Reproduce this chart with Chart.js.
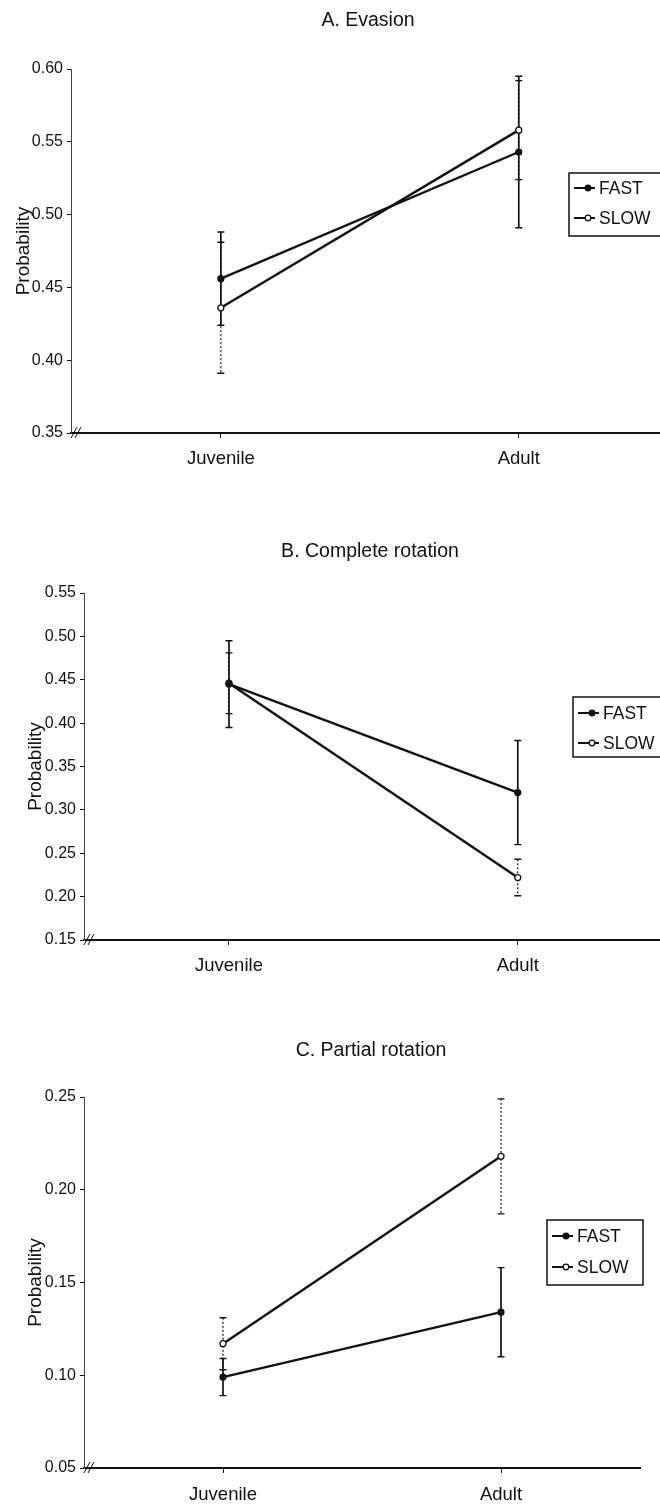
<!DOCTYPE html>
<html><head><meta charset="utf-8">
<script src="https://cdn.jsdelivr.net/npm/chart.js@4.4.1/dist/chart.umd.min.js"></script>
<style>
html,body{margin:0;padding:0;background:#fff;}
#wrap{position:relative;width:660px;height:1508px;overflow:hidden;background:#fff;}
.pane{position:absolute;left:0;width:700px;}
canvas{display:block;}
</style></head><body>
<div id="wrap">
<div class="pane" style="top:0px;height:490px"><canvas id="cA" width="690" height="490"></canvas></div>
<div class="pane" style="top:490px;height:510px"><canvas id="cB" width="690" height="510"></canvas></div>
<div class="pane" style="top:1000px;height:508px"><canvas id="cC" width="660" height="508"></canvas></div>
</div>
<script>
// ---- data ----
const categories = ['Juvenile', 'Adult'];
const seriesNames = ['FAST', 'SLOW'];

const evasionFast = [0.456, 0.543];
const evasionFastErr = [0.032, 0.052];
const evasionSlow = [0.436, 0.558];
const evasionSlowErr = [0.045, 0.034];

const completeFast = [0.445, 0.320];
const completeFastErr = [0.050, 0.060];
const completeSlow = [0.446, 0.222];
const completeSlowErr = [0.035, 0.021];

const partialFast = [0.099, 0.134];
const partialFastErr = [0.010, 0.024];
const partialSlow = [0.117, 0.218];
const partialSlowErr = [0.014, 0.031];

const evasionTicks = [0.35, 0.40, 0.45, 0.50, 0.55, 0.60];
const completeTicks = [0.15, 0.20, 0.25, 0.30, 0.35, 0.40, 0.45, 0.50, 0.55];
const partialTicks = [0.05, 0.10, 0.15, 0.20, 0.25];

const titles = ['A. Evasion', 'B. Complete rotation', 'C. Partial rotation'];
const yTitle = 'Probability';

// ---- rendering ----
const FONT = '"Liberation Sans", Arial, Helvetica, sans-serif';
const INK = '#111';

const panelTitle = {
  id: 'panelTitle',
  afterDraw(chart, args, opts) {
    const ctx = chart.ctx;
    ctx.save();
    ctx.fillStyle = INK;
    ctx.font = opts.size + 'px ' + FONT;
    ctx.textAlign = 'center';
    ctx.textBaseline = 'middle';
    ctx.fillText(opts.text, opts.x, opts.y);
    ctx.restore();
  }
};

const errorBars = {
  id: 'errorBars',
  beforeDatasetsDraw(chart) {
    const ctx = chart.ctx;
    const ys = chart.scales.y, xs = chart.scales.x;
    chart.data.datasets.forEach((ds) => {
      const errs = ds.errors || [];
      ctx.save();
      ctx.strokeStyle = INK;
      ds.data.forEach((p, i) => {
        const e = errs[i];
        const x = xs.getPixelForValue(p.x);
        const y1 = ys.getPixelForValue(p.y + e);
        const y2 = ys.getPixelForValue(p.y - e);
        ctx.lineWidth = ds.errDash ? 1.2 : 1.7;
        ctx.setLineDash(ds.errDash || []);
        ctx.beginPath();
        ctx.moveTo(x, y1); ctx.lineTo(x, y2);
        ctx.stroke();
        ctx.setLineDash([]);
        ctx.lineWidth = 1.4;
        ctx.beginPath();
        ctx.moveTo(x - 3.5, y1); ctx.lineTo(x + 3.5, y1);
        ctx.moveTo(x - 3.5, y2); ctx.lineTo(x + 3.5, y2);
        ctx.stroke();
      });
      ctx.restore();
    });
  }
};

const floatLegend = {
  id: 'floatLegend',
  afterDraw(chart, args, opts) {
    const ctx = chart.ctx;
    ctx.save();
    ctx.fillStyle = '#fff';
    ctx.fillRect(opts.x, opts.y, opts.w, opts.h);
    ctx.strokeStyle = INK;
    ctx.lineWidth = 1.5;
    ctx.strokeRect(opts.x, opts.y, opts.w, opts.h);
    chart.data.datasets.forEach((ds, i) => {
      const cy = opts.y + opts.rows[i];
      ctx.strokeStyle = INK;
      ctx.lineWidth = 2;
      ctx.beginPath();
      ctx.moveTo(opts.x + 5, cy); ctx.lineTo(opts.x + 26, cy);
      ctx.stroke();
      ctx.beginPath();
      ctx.arc(opts.x + 19, cy, 2.8, 0, Math.PI * 2);
      ctx.fillStyle = ds.pointBackgroundColor;
      ctx.fill();
      ctx.lineWidth = 1.3;
      ctx.stroke();
      ctx.fillStyle = INK;
      ctx.font = '17.5px ' + FONT;
      ctx.textBaseline = 'middle';
      ctx.fillText(ds.label, opts.x + 30, cy + 1);
    });
    ctx.restore();
  }
};

const axisBreak = {
  id: 'axisBreak',
  afterDraw(chart) {
    const ctx = chart.ctx;
    const a = chart.chartArea;
    ctx.save();
    ctx.strokeStyle = INK;
    ctx.lineWidth = 1;
    [3, 7].forEach(dx => {
      ctx.beginPath();
      ctx.moveTo(a.left + dx - 3, a.bottom + 5);
      ctx.lineTo(a.left + dx + 3, a.bottom - 6);
      ctx.stroke();
    });
    ctx.restore();
  }
};

function toPoints(vals) { return vals.map((v, i) => ({ x: i, y: v })); }

function makeChart(id, c) {
  new Chart(document.getElementById(id), {
    type: 'line',
    data: {
      datasets: [
        { label: seriesNames[0], data: toPoints(c.fast), errors: c.fastErr, errDash: null,
          borderColor: INK, borderWidth: 2.4, pointRadius: 3, pointBackgroundColor: INK,
          pointBorderColor: INK, pointBorderWidth: 1.2, tension: 0 },
        { label: seriesNames[1], data: toPoints(c.slow), errors: c.slowErr, errDash: [2, 2],
          borderColor: INK, borderWidth: 2.4, pointRadius: 3, pointBackgroundColor: '#fff',
          pointBorderColor: INK, pointBorderWidth: 1.3, tension: 0 }
      ]
    },
    options: {
      responsive: false,
      animation: false,
      layout: { padding: { left: 0, right: c.padRight, top: c.padTop, bottom: 0 } },
      plugins: {
        legend: { display: false },
        tooltip: { enabled: false },
        title: { display: false },
        panelTitle: c.titleBox,
        floatLegend: c.legend
      },
      scales: {
        x: {
          type: 'linear', min: c.xMin, max: c.xMax,
          afterBuildTicks: s => { s.ticks = categories.map((_, i) => ({ value: i })); },
          afterFit: s => { s.height = c.xHeight; },
          ticks: { color: INK, padding: c.xLabelPad, font: { family: FONT, size: 18.5 },
            callback: v => categories[v] },
          grid: { drawOnChartArea: false, drawTicks: true, tickLength: 5, color: INK, lineWidth: 1 },
          border: { display: true, color: INK, width: 2 }
        },
        y: {
          type: 'linear', min: c.yTicks[0], max: c.yTicks[c.yTicks.length - 1],
          afterBuildTicks: s => { s.ticks = c.yTicks.map(v => ({ value: v })); },
          afterFit: s => { s.width = c.yWidth; },
          ticks: { color: INK, padding: 4, font: { family: FONT, size: 16 },
            callback: v => Number(v).toFixed(2) },
          grid: { drawOnChartArea: false, drawTicks: true, tickLength: 4, color: INK, lineWidth: 1 },
          border: { display: true, color: '#444', width: 1, dash: [4, 2] },
          title: { display: true, text: yTitle, color: INK,
            font: { family: FONT, size: 19 }, padding: { top: c.yTitlePad, bottom: 0 } }
        }
      }
    },
    plugins: [errorBars, floatLegend, axisBreak, panelTitle]
  });
}

makeChart('cA', {
  fast: evasionFast, fastErr: evasionFastErr, slow: evasionSlow, slowErr: evasionSlowErr,
  yTicks: evasionTicks,
  titleBox: { text: titles[0], x: 368, y: 21, size: 19.5 },
  xMin: -0.503, xMax: 1.557, padRight: 0, padTop: 69, yWidth: 71, xHeight: 57, xLabelPad: 10,
  yTitlePad: 12,
  legend: { x: 569, y: 173, w: 100, h: 63, rows: [15, 45] }
});
makeChart('cB', {
  fast: completeFast, fastErr: completeFastErr, slow: completeSlow, slowErr: completeSlowErr,
  yTicks: completeTicks,
  titleBox: { text: titles[1], x: 370, y: 62, size: 19.5 },
  xMin: -0.502, xMax: 1.578, padRight: 0, padTop: 103, yWidth: 84, xHeight: 60, xLabelPad: 10,
  yTitlePad: 24,
  legend: { x: 573, y: 207, w: 100, h: 60, rows: [16, 46] }
});
makeChart('cC', {
  fast: partialFast, fastErr: partialFastErr, slow: partialSlow, slowErr: partialSlowErr,
  yTicks: partialTicks,
  titleBox: { text: titles[2], x: 371, y: 51, size: 19.5 },
  xMin: -0.5, xMax: 1.5, padRight: 20, padTop: 97, yWidth: 84, xHeight: 40, xLabelPad: 11,
  yTitlePad: 24,
  legend: { x: 547, y: 220, w: 96, h: 65, rows: [16, 47] }
});
</script>
</body></html>
